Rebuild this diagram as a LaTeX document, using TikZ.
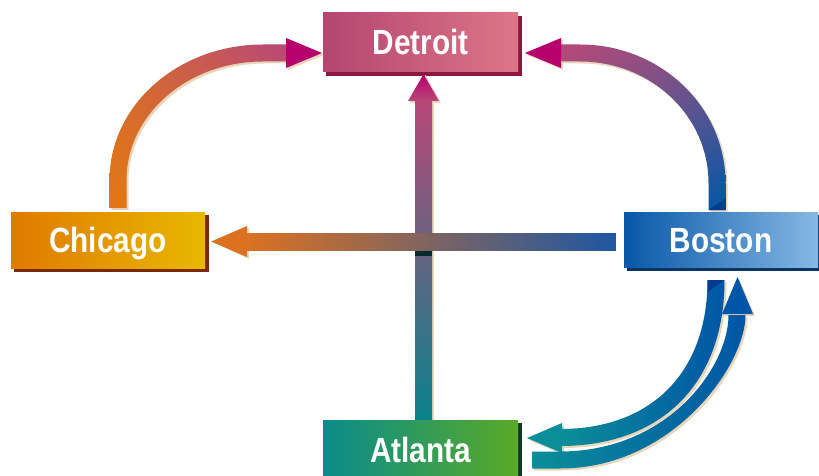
\documentclass[tikz,border=0pt]{standalone}
\usepackage{fontspec}
\newfontfamily\labfont[FakeStretch=0.85]{Liberation Sans}
\usetikzlibrary{calc,shadings}
\pgfdeclarelayer{back}
\pgfsetlayers{back,main}
\definecolor{detL}{HTML}{B4466F}\definecolor{detR}{HTML}{DC7688}\definecolor{detS}{HTML}{8A1840}
\definecolor{chiL}{HTML}{E07A00}\definecolor{chiR}{HTML}{E8B800}\definecolor{chiS}{HTML}{7A2A00}
\definecolor{bosL}{HTML}{0858A8}\definecolor{bosR}{HTML}{86B8E4}\definecolor{bosS}{HTML}{0A3466}
\definecolor{atlL}{HTML}{0A8C8C}\definecolor{atlR}{HTML}{5AAA28}\definecolor{atlS}{HTML}{103A28}
\definecolor{ashadow}{HTML}{E8D6BA}
\definecolor{magHead}{HTML}{B6006C}
\definecolor{cOrange}{HTML}{E27812}
\definecolor{cMauve}{HTML}{B84878}
\definecolor{cPurple}{HTML}{7A5488}
\definecolor{cBlue}{HTML}{0056A6}
\definecolor{cTeal}{HTML}{0A8E98}
\definecolor{cDarkBlue}{HTML}{003C92}
\tikzset{
  citybox/.style={minimum width=195pt, minimum height=58pt, inner sep=0pt,
    text=white, text height=25pt, text depth=0pt,
    font=\labfont\bfseries\fontsize{35}{35}\selectfont},
  arrowshadow/.style={fill=ashadow, shift={(2,2)}}
}
\def\pCD{(109.5,208) -- (109.5,180) .. controls (109.5,105.2) and (178.2,44.5) .. (263,44.5) -- (288,44.5) -- (288,61.5) -- (263,61.5) .. controls (187.6,61.5) and (126.5,114.6) .. (126.5,180) -- (126.5,208) -- cycle}
\def\hCD{(286,38) -- (322,53) -- (286,68) -- cycle}
\def\pBD{(725.5,210) -- (725.5,183) .. controls (725.5,106.5) and (660.4,44.5) .. (580,44.5) -- (558,44.5) -- (558,61.5) -- (580,61.5) .. controls (651,61.5) and (708.5,115.9) .. (708.5,183) -- (708.5,210) -- cycle}
\def\hBD{(561,38) -- (525,53) -- (561,68) -- cycle}
\def\pBA{(707.5,280) -- (724.5,280) .. controls (724.5,383) and (662,446) .. (560,446) -- (560,429) .. controls (651.5,429) and (707.5,372.4) .. (707.5,280) -- cycle}
\def\hBA{(562,423) -- (527,438) -- (562,453) -- cycle}
\def\pAB{(532,451.5) -- (560,451.5) .. controls (667,451.5) and (728.5,368) .. (728.5,315) -- (745.5,315) .. controls (745.5,365) and (673,468.5) .. (560,468.5) -- (532,468.5) -- cycle}
\def\hAB{(722,314) -- (737.5,277) -- (753,314) -- cycle}
\begin{document}
\begin{tikzpicture}[x=1pt,y=-1pt]
\useasboundingbox (0,0) rectangle (819,476);
\clip (0,0) rectangle (819,476);

% city boxes
\node[citybox, minimum height=59pt, left color=detL, right color=detR] (det) at (420.5,42.5) {Detroit};
\node[citybox, minimum width=194pt, minimum height=56pt, left color=chiL, right color=chiR] (chi) at (108,240) {Chicago};
\node[citybox, minimum width=194pt, minimum height=55pt, left color=bosL, right color=bosR] (bos) at (721,239.5) {Boston};
\node[citybox, minimum height=60pt, left color=atlL, right color=atlR] (atl) at (420.5,450) {Atlanta};

\begin{pgfonlayer}{back}
  \fill[white] (0,0) rectangle (819,476);
  \foreach \n/\c in {det/detS, chi/chiS, bos/bosS, atl/atlS}
    \fill[\c] ($(\n.south west)+(3.5,3.5)$) rectangle ($(\n.north east)+(3.5,3.5)$);

  % arrow drop shadows
  \fill[arrowshadow] \pCD; \fill[arrowshadow] \hCD;
  \fill[arrowshadow] \pBD; \fill[arrowshadow] \hBD;
  \fill[arrowshadow] \pBA; \fill[arrowshadow] \hBA;
  \fill[arrowshadow] \pAB; \fill[arrowshadow] \hAB;
  \fill[arrowshadow] ($(atl.north)+(-5.5,0)$) rectangle (432,100);
  \fill[arrowshadow] (408,101) -- (423.5,73) -- (439,101) -- cycle;
  \fill[arrowshadow] (247,233) rectangle ($(bos.west)+(-8,10.5)$);
  \fill[arrowshadow] (247,226) -- ($(chi.east)+(6,1.5)$) -- (247,257) -- cycle;

  % Atlanta -> Detroit (vertical)
  \shade[top color=cMauve, bottom color=cTeal!92!black] ($(atl.north)+(-5.5,0)$) rectangle (432,100);
  \shade[top color=magHead, bottom color=cMauve] (408,101) -- ($(det.south)+(3,2)$) -- (439,101) -- cycle;
  % shadow of horizontal bar on vertical bar
  \fill[black!70!cTeal] (415,250) rectangle (432,256);
  % Boston -> Chicago (horizontal)
  \shade[left color=cOrange!85!cMauve, right color=bosL!80!cPurple] (247,233) rectangle ($(bos.west)+(-8,10.5)$);
  \fill[cOrange!85!cMauve] (247,226) -- ($(chi.east)+(6,1.5)$) -- (247,257) -- cycle;

  % Chicago -> Detroit
  \shade[lower left=cOrange, upper left=cOrange!70!cMauve, upper right=cMauve, lower right=cOrange!60!cMauve] \pCD;
  \fill[magHead] \hCD;
  % Boston -> Detroit
  \shade[lower right=cBlue, upper right=cPurple, upper left=cMauve, lower left=cPurple] \pBD;
  \fill[cDarkBlue] (708.5,210) -- (725.5,210) -- (725.5,198) -- cycle;
  \fill[magHead] \hBD;
  % Boston -> Atlanta
  \shade[left color=cTeal, right color=cBlue] \pBA;
  \fill[cDarkBlue] (707.5,280) -- (724.5,280) -- (707.5,292) -- cycle;
  \fill[cTeal] \hBA;
  % Atlanta -> Boston
  \shade[left color=cTeal, right color=cBlue] \pAB;
  \fill[cBlue] \hAB;
\end{pgfonlayer}
\end{tikzpicture}
\end{document}
